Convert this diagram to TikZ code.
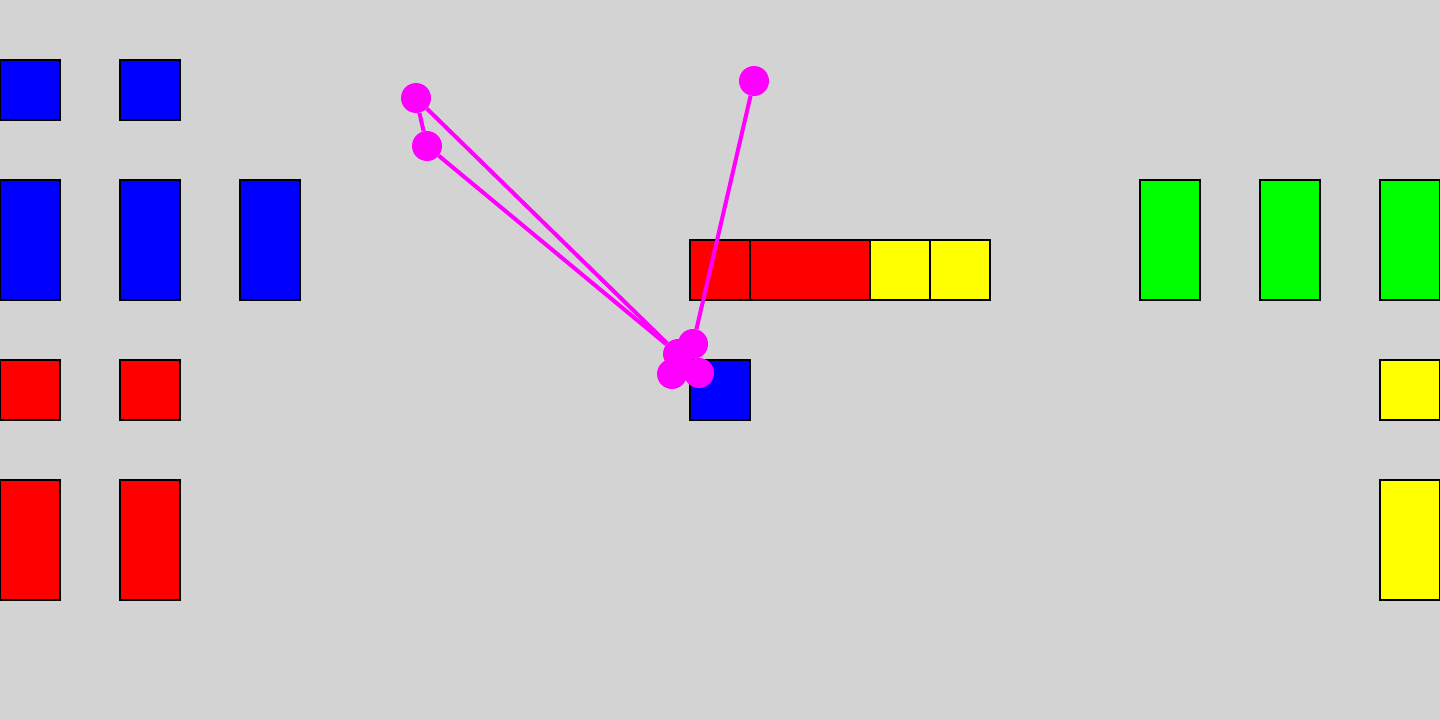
\documentclass[tikz,border=0pt]{standalone}
\usepackage{xcolor}
\usepackage{tikz}
\usetikzlibrary{calc}

\definecolor{bgGray}{RGB}{211,211,211}
\definecolor{pinkDot}{RGB}{255,0,255}
\definecolor{boxBlue}{RGB}{0,0,255}
\definecolor{boxRed}{RGB}{255,0,0}
\definecolor{boxYellow}{RGB}{255,255,0}
\definecolor{boxGreen}{RGB}{0,255,0}

\begin{document}
\begin{tikzpicture}[x=1pt,y=-1pt,
    box/.style={draw=black,line width=2pt},
    dot/.style={circle,fill=pinkDot,inner sep=0pt,minimum size=30pt},
    link/.style={draw=pinkDot,line width=4pt}]
            \fill[bgGray] (0,0) rectangle (1440,720);
            \useasboundingbox (0,0) rectangle (1440,720);
            % left block
            \foreach \x in {0,120} {
                \draw[box,fill=boxBlue] (\x,60) rectangle ++(60,60);
                \draw[box,fill=boxRed] (\x,360) rectangle ++(60,60);
                \draw[box,fill=boxRed] (\x,480) rectangle ++(60,120);
            }
            \foreach \x in {0,120,240}
                \draw[box,fill=boxBlue] (\x,180) rectangle ++(60,120);
            % middle row
            \draw[box,fill=boxRed] (690,240) rectangle (750,300);
            \draw[box,fill=boxRed] (750,240) rectangle (870,300);
            \draw[box,fill=boxYellow] (870,240) rectangle (930,300);
            \draw[box,fill=boxYellow] (930,240) rectangle (990,300);
            \draw[box,fill=boxBlue] (690,360) rectangle (750,420);
            % right block
            \foreach \x in {1140,1260,1380}
                \draw[box,fill=boxGreen] (\x,180) rectangle ++(60,120);
            \draw[box,fill=boxYellow] (1380,360) rectangle (1440,420);
            \draw[box,fill=boxYellow] (1380,480) rectangle (1440,600);
            % magenta points
            \node[dot] (top1) at (416,98) {};
            \node[dot] (top2) at (427,146) {};
            \node[dot] (top3) at (754,81) {};
            \node[dot] (hub1) at (678,354) {};
            \node[dot] (hub2) at (693,344) {};
            \node[dot] (hub3) at (672,374) {};
            \node[dot] (hub4) at (699,373) {};
            \draw[link] (top1) -- (top2);
            \draw[link] (top1) -- (hub1);
            \draw[link] (top2) -- (hub1);
            \draw[link] (top3) -- (hub2);
        \end{tikzpicture}
\end{document}
